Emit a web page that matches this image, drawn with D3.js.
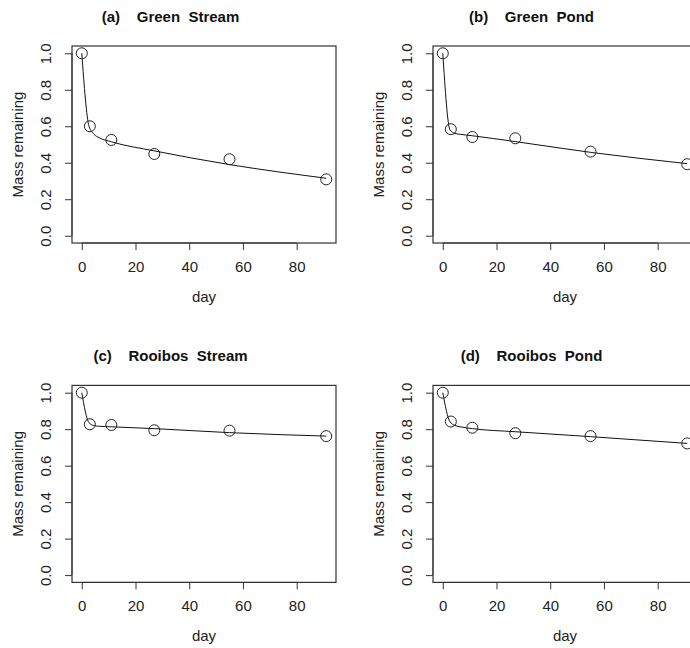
<!DOCTYPE html>
<html>
<head>
<meta charset="utf-8">
<script src="https://cdn.jsdelivr.net/npm/d3@7"></script>
<style>
  body { margin: 0; background: #fff; }
  text { font-family: "Liberation Sans", Arial, sans-serif; }
</style>
</head>
<body>
<div id="graph"></div>
<script>
// sampling days and observed mass remaining
let days = [0, 3, 11, 27, 55, 91]
let greenStream = [1.0, 0.60, 0.525, 0.448, 0.419, 0.309]
let greenPond = [1.0, 0.584, 0.541, 0.534, 0.461, 0.392]
let rooibosStream = [1.0, 0.827, 0.823, 0.794, 0.792, 0.762]
let rooibosPond = [1.0, 0.842, 0.808, 0.778, 0.762, 0.722]

// fitted curve
let fitDays = [0, 2.7, 4.5, 6.5, 11, 27, 55, 91]
let greenStreamFit = [1.0, 0.60, 0.557, 0.537, 0.515, 0.465, 0.39, 0.315]
let greenPondFit = [1.0, 0.58, 0.561, 0.556, 0.548, 0.516, 0.457, 0.395]
let rooibosStreamFit = [1.0, 0.835, 0.82, 0.816, 0.813, 0.803, 0.781, 0.762]
let rooibosPondFit = [1.0, 0.84, 0.821, 0.813, 0.803, 0.786, 0.759, 0.722]

let titles = ["(a)    Green  Stream", "(b)    Green  Pond", "(c)    Rooibos  Stream", "(d)    Rooibos  Pond"]
let observed = [greenStream, greenPond, rooibosStream, rooibosPond]
let fitted = [greenStreamFit, greenPondFit, rooibosStreamFit, rooibosPondFit]

let xTicks = [0, 20, 40, 60, 80]
let yTicks = [0, 0.2, 0.4, 0.6, 0.8, 1.0]

let width = 690, height = 648
let panel_dx = 361, panel_dy = 339.4
let box = {left: 72, right: 336, top: 46, bottom: 243}

let svg = d3.select("#graph")
    .append("svg")
        .attr("width", width)
        .attr("height", height)

svg.append("rect")
    .attr("width", width)
    .attr("height", height)
    .attr("fill", "#fff")

// same scales in every panel, panels are just shifted
let x = d3.scaleLinear().domain([-3.64, 94.64]).range([box.left, box.right])
let y = d3.scaleLinear().domain([-0.04, 1.04]).range([box.bottom, box.top])

let line = d3.line()
    .x(d => x(d[0]))
    .y(d => y(d[1]))
    .curve(d3.curveMonotoneX)

titles.forEach(function(title, i) {
    let col = i % 2, row = Math.floor(i / 2)
    let g = svg.append("g")
        .attr("transform", `translate(${col * panel_dx}, ${row * panel_dy})`)

    //title
    g.append("text")
        .attr("x", 170.5)
        .attr("y", 22)
        .attr("text-anchor", "middle")
        .style("font-size", "15px")
        .style("font-weight", "bold")
        .style("white-space", "pre")
        .attr("fill", "#111")
        .text(title)

    //box
    g.append("rect")
        .attr("x", box.left)
        .attr("y", box.top)
        .attr("width", box.right - box.left)
        .attr("height", box.bottom - box.top)
        .attr("fill", "none")
        .attr("stroke", "#333")
        .attr("stroke-width", 1.2)

    //x axis
    let xAxis = d3.axisBottom(x).tickValues(xTicks).tickSize(7).tickPadding(10).tickFormat(d3.format("d"))
    let xa = g.append("g")
        .attr("transform", `translate(0, ${box.bottom})`)
        .call(xAxis)
    xa.select(".domain").attr("d", `M${x(0)},0H${x(80)}`).attr("stroke", "#333")
    xa.selectAll(".tick line").attr("stroke", "#333")
    xa.selectAll(".tick text")
        .attr("dy", null)
        .attr("y", 28.7)
        .style("font-size", "15px")
        .style("font-family", "Liberation Sans, Arial, sans-serif")
        .attr("fill", "#222")

    //y axis, labels rotated as in R
    let yAxis = d3.axisLeft(y).tickValues(yTicks).tickSize(7).tickFormat(d3.format(".1f"))
    let ya = g.append("g")
        .attr("transform", `translate(${box.left}, 0)`)
        .call(yAxis)
    ya.select(".domain").attr("d", `M0,${y(0)}V${y(1)}`).attr("stroke", "#333")
    ya.selectAll(".tick line").attr("stroke", "#333")
    ya.selectAll(".tick text")
        .attr("x", null)
        .attr("dy", null)
        .attr("text-anchor", "middle")
        .attr("transform", "translate(-21, 0) rotate(-90)")
        .style("font-size", "15px")
        .style("font-family", "Liberation Sans, Arial, sans-serif")
        .attr("fill", "#222")

    //axis titles
    g.append("text")
        .attr("x", (box.left + box.right) / 2)
        .attr("y", 302)
        .attr("text-anchor", "middle")
        .style("font-size", "15px")
        .attr("fill", "#222")
        .text("day")

    g.append("text")
        .attr("transform", `translate(22.7, ${(box.top + box.bottom) / 2}) rotate(-90)`)
        .attr("text-anchor", "middle")
        .style("font-size", "15px")
        .attr("fill", "#222")
        .text("Mass remaining")

    //fitted line
    g.append("path")
        .datum(fitDays.map((d, j) => [d, fitted[i][j]]))
        .attr("d", line)
        .attr("fill", "none")
        .attr("stroke", "#111")
        .attr("stroke-width", 1)

    //observed points
    g.selectAll("circle")
        .data(days.map((d, j) => [d, observed[i][j]]))
        .enter()
        .append("circle")
        .attr("cx", d => x(d[0]))
        .attr("cy", d => y(d[1]))
        .attr("r", 5.5)
        .attr("fill", "none")
        .attr("stroke", "#222")
        .attr("stroke-width", 1)
})
</script>
</body>
</html>
